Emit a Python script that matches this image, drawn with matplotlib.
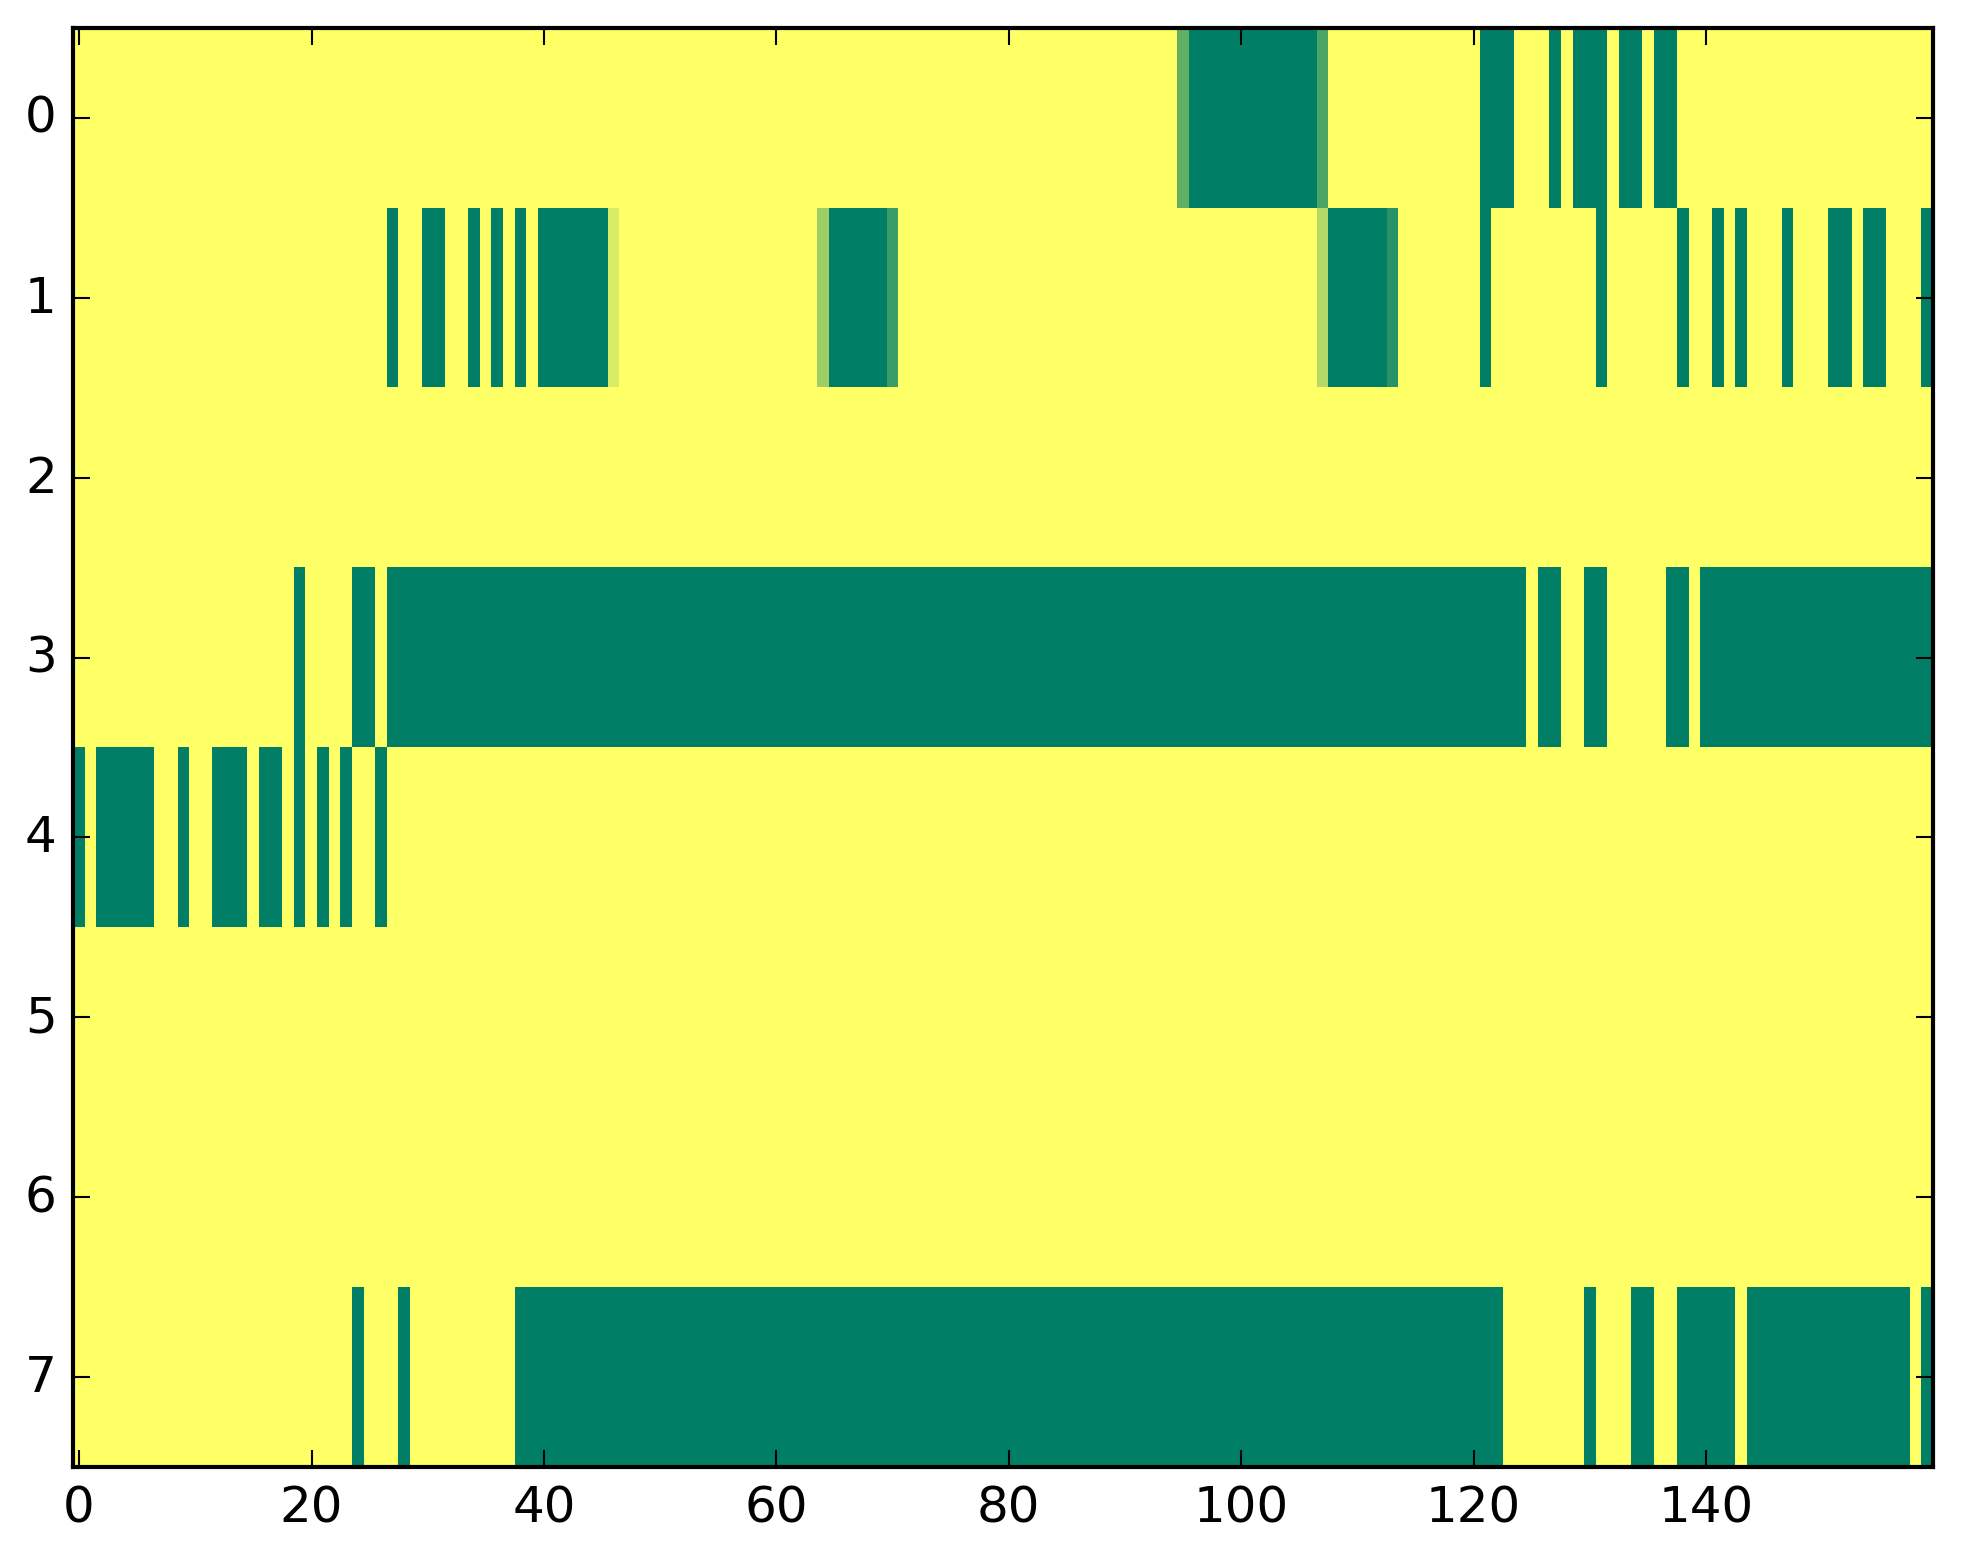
import numpy as np
import matplotlib
matplotlib.use("Agg")
import matplotlib.pyplot as plt

# Each row given as run-lengths of (value, count)
row0 = [(1, 95), (0.38, 1), (0, 11), (0.30, 1), (1, 13), (0, 3), (1, 3), (0, 1), (1, 1),
        (0, 3), (1, 1), (0, 2), (1, 1), (0, 2), (1, 22)]
row1 = [(1, 27), (0, 1), (1, 2), (0, 2), (1, 2), (0, 1), (1, 1), (0, 1), (1, 1), (0, 1),
        (1, 1), (0, 6), (0.85, 1), (1, 17), (0.62, 1), (0, 5), (0.23, 1), (1, 36), (0.70, 1),
        (0, 5), (0.16, 1), (1, 7), (0, 1), (1, 9), (0, 1), (1, 6), (0, 1), (1, 2), (0, 1),
        (1, 1), (0, 1), (1, 3), (0, 1), (1, 3), (0, 2), (1, 1), (0, 2), (1, 3), (0, 1)]
row2 = [(1, 160)]
row3 = [(1, 19), (0, 1), (1, 4), (0, 2), (1, 1), (0, 98), (1, 1), (0, 2), (1, 2), (0, 2),
        (1, 5), (0, 2), (1, 1), (0, 20)]
row4 = [(0, 1), (1, 1), (0, 5), (1, 2), (0, 1), (1, 2), (0, 3), (1, 1), (0, 2), (1, 1),
        (0, 1), (1, 1), (0, 1), (1, 1), (0, 1), (1, 2), (0, 1), (1, 133)]
row5 = [(1, 160)]
row6 = [(1, 160)]
row7 = [(1, 24), (0, 1), (1, 3), (0, 1), (1, 9), (0, 85), (1, 7), (0, 1), (1, 3), (0, 2),
        (1, 2), (0, 5), (1, 1), (0, 14), (1, 1), (0, 1)]

rows = [row0, row1, row2, row3, row4, row5, row6, row7]


def expand(runs):
    out = []
    for v, n in runs:
        out.extend([v] * n)
    return out


data = np.array([expand(r) for r in rows], dtype=float)

plt.style.use("classic")
plt.rcParams["font.size"] = 12
plt.rcParams["font.family"] = ["DejaVu Sans"]

W, H, DPI = 1963, 1564, 300
fig = plt.figure(figsize=(W / DPI, H / DPI), dpi=DPI, facecolor="white")
left, right, top, bottom = 73.3, 1932.5, 29.0, 1468.0
ax = fig.add_axes([left / W, (H - bottom) / H, (right - left) / W, (bottom - top) / H])
ax.imshow(data, cmap="summer", vmin=0, vmax=1, aspect="auto", interpolation="nearest")
ax.set_xticks([0, 20, 40, 60, 80, 100, 120, 140])
ax.set_yticks(range(8))
ax.tick_params(labelsize=12)

fig.savefig("out.png", dpi=DPI, facecolor="white")
